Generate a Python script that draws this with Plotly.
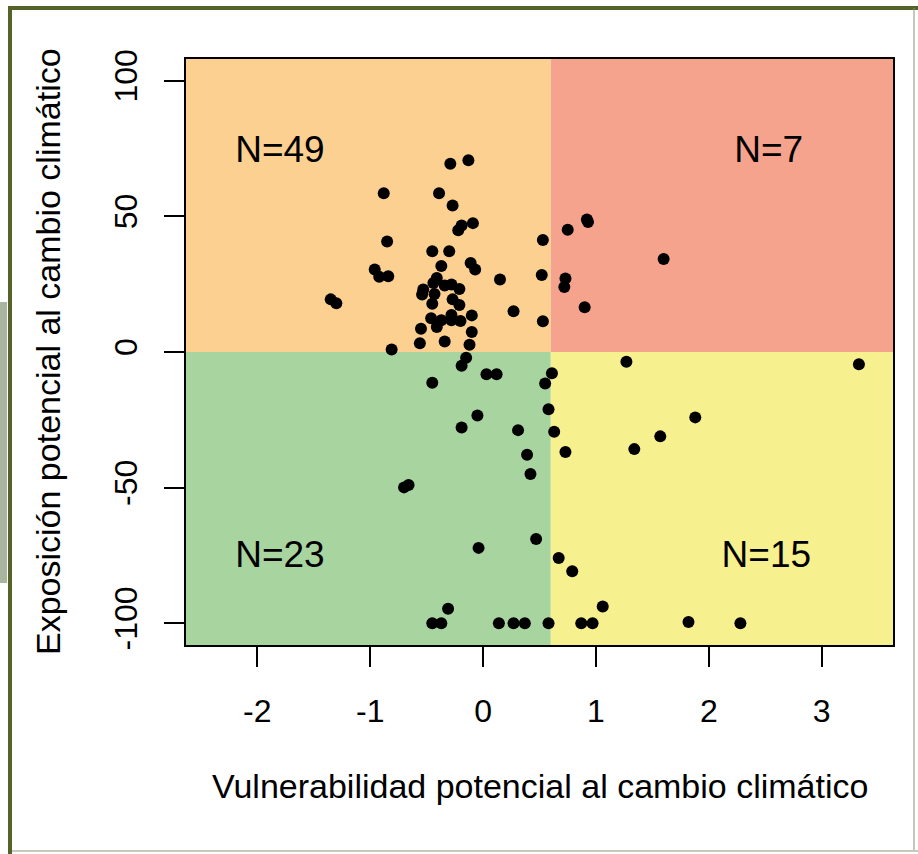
import plotly.graph_objects as go

# ---------------- data ----------------
x_vals = [
    # upper-left (N=49)
    -0.29, -0.13, -0.88, -0.39, -0.27, -0.09, -0.19, -0.22, -0.85, 0.53,
    -0.45, -0.30, -0.37, -0.11, -0.07, -0.96, -0.92, -0.84, 0.15, 0.52,
    -0.41, -0.44, -0.53, -0.54, -0.43, -0.34, -0.28, -0.21, -0.27, -0.21,
    -0.45, -1.35, -1.30, 0.27, 0.53, -0.46, -0.37, -0.28, -0.28, -0.20,
    -0.10, -0.55, -0.41, -0.10, -0.56, -0.34, -0.12, -0.81, -0.28,
    # upper-right (N=7)
    0.92, 0.93, 0.75, 1.60, 0.73, 0.72, 0.90,
    # lower-left (N=23)
    -0.15, -0.19, 0.03, 0.12, -0.45, 0.55, 0.58, -0.05, -0.19, 0.31,
    0.39, 0.42, -0.70, -0.66, -0.04, 0.47, -0.31, -0.45, -0.37, 0.14,
    0.27, 0.37, 0.58,
    # lower-right (N=15)
    1.27, 3.33, 0.61, 1.88, 1.57, 1.34, 0.73, 0.63, 0.67, 0.79,
    0.87, 0.97, 1.06, 1.82, 2.28,
]
y_vals = [
    69.4, 70.7, 58.5, 58.5, 54.0, 47.5, 46.6, 44.9, 40.7, 41.3,
    37.1, 37.1, 31.7, 32.8, 30.4, 30.4, 27.7, 27.9, 26.7, 28.4,
    27.3, 25.4, 23.0, 21.2, 21.4, 24.5, 24.9, 23.2, 19.4, 17.3,
    17.8, 19.4, 18.0, 15.0, 11.3, 12.4, 11.7, 13.6, 11.7, 11.4,
    13.5, 8.6, 9.2, 7.4, 3.2, 3.9, 2.7, 0.9, 12.3,
    48.8, 47.9, 45.1, 34.3, 27.1, 24.0, 16.5,
    -2.1, -5.1, -8.2, -8.2, -11.3, -11.6, -21.1, -23.4, -27.8, -28.8,
    -37.9, -45.0, -49.9, -49.0, -72.2, -68.9, -94.6, -100, -100, -100,
    -100, -100, -100,
    -3.6, -4.5, -7.8, -24.1, -31.1, -35.8, -36.9, -29.4, -75.9, -80.8,
    -100, -100, -93.8, -99.5, -100,
]

x_tick_vals = [-2, -1, 0, 1, 2, 3]
x_tick_text = ["-2", "-1", "0", "1", "2", "3"]
y_tick_vals = [-100, -50, 0, 50, 100]
y_tick_text = ["-100", "-50", "0", "50", "100"]

quad_labels = ["N=49", "N=7", "N=23", "N=15"]
quad_label_x = [-1.80, 2.53, -1.80, 2.51]
quad_label_y = [73.5, 73.5, -75.7, -75.7]

x_split = 0.6
y_split = 0
x_range = [-2.632, 3.632]
y_range = [-108, 108]

x_title = "Vulnerabilidad potencial al cambio climático"
y_title = "Exposición potencial al cambio climático"

# ---------------- styling ----------------
FONT = "Liberation Sans, Arial, sans-serif"
C_UL = "#FCD091"
C_UR = "#F6A38E"
C_LL = "#A8D4A0"
C_LR = "#F6F08E"
OLIVE = "#556228"

W, H = 918, 854
ML, MR, MT, MB = 186, 25, 59, 209
PW, PH = W - ML - MR, H - MT - MB


def px(xp, yp):
    """pixel -> paper coordinates (for decorative frame only)"""
    return (xp - ML) / PW, (H - MB - yp) / PH


fig = go.Figure()

fig.add_trace(go.Scatter(
    x=x_vals, y=y_vals, mode="markers",
    marker=dict(color="black", size=12, line=dict(width=0)),
    hoverinfo="x+y", showlegend=False,
))
fig.add_trace(go.Scatter(
    x=quad_label_x, y=quad_label_y, mode="text", text=quad_labels,
    textfont=dict(family=FONT, size=37, color="black"),
    hoverinfo="skip", showlegend=False,
))

shapes = []
# quadrants
for (x0, x1, y0, y1, c) in [
    (x_range[0], x_split, y_split, y_range[1], C_UL),
    (x_split, x_range[1], y_split, y_range[1], C_UR),
    (x_range[0], x_split, y_range[0], y_split, C_LL),
    (x_split, x_range[1], y_range[0], y_split, C_LR),
]:
    shapes.append(dict(type="rect", xref="x", yref="y", x0=x0, x1=x1, y0=y0, y1=y1,
                       fillcolor=c, line=dict(width=0), layer="below"))

# outer frame (decoration)
a = px(0, 302); b = px(7, 583)
shapes.append(dict(type="rect", xref="paper", yref="paper", x0=a[0], y0=a[1], x1=b[0], y1=b[1],
                   fillcolor="#A9B59E", line=dict(width=0)))
a = px(8, 8); b = px(918, 8)
shapes.append(dict(type="line", xref="paper", yref="paper", x0=a[0], y0=a[1], x1=b[0], y1=b[1],
                   line=dict(color=OLIVE, width=4)))
a = px(10, 8); b = px(10, 854)
shapes.append(dict(type="line", xref="paper", yref="paper", x0=a[0], y0=a[1], x1=b[0], y1=b[1],
                   line=dict(color=OLIVE, width=4)))
a = px(914, 8); b = px(914, 851)
shapes.append(dict(type="line", xref="paper", yref="paper", x0=a[0], y0=a[1], x1=b[0], y1=b[1],
                   line=dict(color="#8A8F80", width=1)))
a = px(12, 851); b = px(918, 851)
shapes.append(dict(type="line", xref="paper", yref="paper", x0=a[0], y0=a[1], x1=b[0], y1=b[1],
                   line=dict(color="#C8C8BE", width=2)))

annotations = [
    dict(text=x_title, xref="paper", yref="paper", x=0.5, y=px(0, 786)[1],
         showarrow=False, font=dict(family=FONT, size=34, color="black"),
         xanchor="center", yanchor="middle"),
    dict(text=y_title, xref="paper", yref="paper", x=px(48, 0)[0], y=px(0, 352)[1],
         showarrow=False, textangle=-90, font=dict(family=FONT, size=34, color="black"),
         xanchor="center", yanchor="middle"),
]

fig.update_layout(
    width=W, height=H,
    margin=dict(l=ML, r=MR, t=MT, b=MB),
    paper_bgcolor="white", plot_bgcolor="white",
    shapes=shapes, annotations=annotations,
    font=dict(family=FONT, color="black"),
    xaxis=dict(range=x_range, tickvals=x_tick_vals, ticktext=x_tick_text,
               ticks="outside", ticklen=20, tickwidth=1.5, tickcolor="black",
               showline=True, mirror=True, linecolor="black", linewidth=1.5,
               showgrid=False, zeroline=False, ticklabelstandoff=17,
               tickfont=dict(family=FONT, size=32, color="black")),
    yaxis=dict(range=y_range, tickvals=y_tick_vals, ticktext=y_tick_text,
               ticks="outside", ticklen=20, tickwidth=1.5, tickcolor="black",
               showline=True, mirror=True, linecolor="black", linewidth=1.5,
               showgrid=False, zeroline=False, tickangle=-90, ticklabelstandoff=14,
               tickfont=dict(family=FONT, size=32, color="black")),
)

fig.write_html("out.html", config={"displayModeBar": False},
               post_script="document.body.style.margin='0';")
